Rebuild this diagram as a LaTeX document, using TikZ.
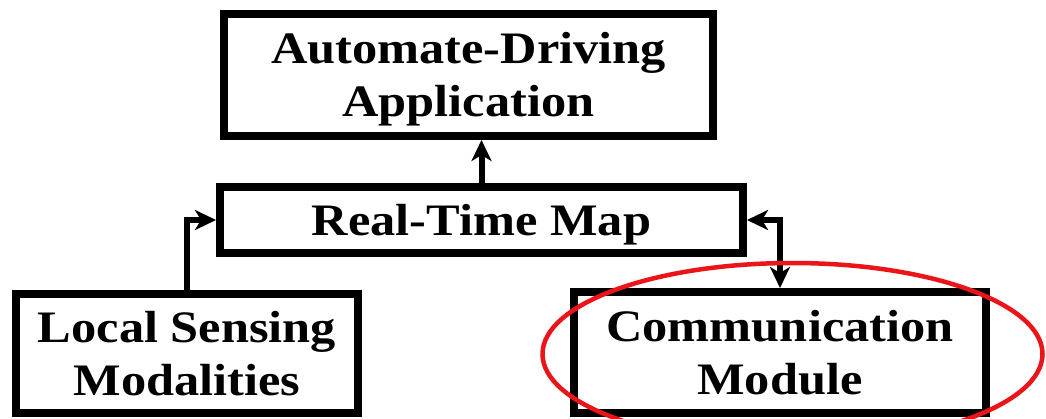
\documentclass[tikz,border=0pt]{standalone}
\usepackage{fontspec}
\setmainfont[FakeStretch=1.12]{Liberation Serif}
\usetikzlibrary{arrows.meta}
\definecolor{ringred}{RGB}{235,20,24}
\begin{document}
\begin{tikzpicture}[x=1pt,y=-1pt,
  block/.style={draw=black, line width=8pt, inner sep=0pt, align=center,
    font=\fontsize{45}{53}\selectfont\bfseries, text height=83pt, text depth=0pt},
  oneline/.style={text height=30pt},
  tip/.tip={Stealth[length=21pt,width=20pt,inset=6pt]},
  link/.style={line width=6pt, draw=black}
]
\useasboundingbox (0,0) rectangle (1046,418);
\clip (0,0) rectangle (1046,418);

% boxes
\node[block, minimum width=489pt, minimum height=122pt] (app) at (468.5,75)
  {Automate-Driving\\Application};
\node[block, oneline, minimum width=523pt, minimum height=66pt] (map) at (481.5,220)
  {Real-Time Map};
\node[block, minimum width=342pt, minimum height=119pt] (sense) at (187,353.5)
  {Local Sensing\\Modalities};
\node[block, minimum width=412pt, minimum height=121pt] (comm) at (780,352.5)
  {Communication\\Module};

% connectors
\draw[link, -tip] (map.north) -- (map.north |- app.south);
\draw[link, -tip] (sense.north) |- (map.west);
\draw[link, tip-tip] (map.east) -| (comm.north);

% highlight ring
\draw[ringred, line width=4.5pt] (792.5,354) ellipse [x radius=250, y radius=91];
\end{tikzpicture}
\end{document}
